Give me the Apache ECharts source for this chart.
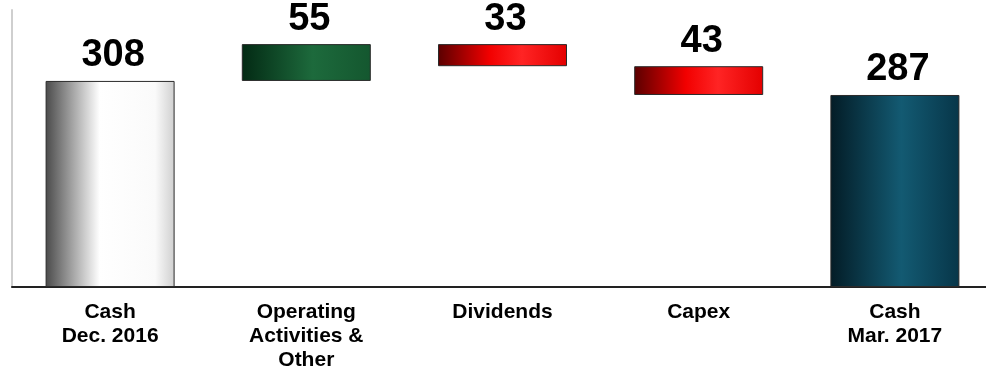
<!DOCTYPE html>
<html>
<head>
<meta charset="utf-8">
<script src="https://cdn.jsdelivr.net/npm/echarts@6/dist/echarts.min.js"></script>
<style>
  html, body { margin: 0; padding: 0; background: #fff; }
  #chart { width: 986px; height: 366px; }
</style>
</head>
<body>
<div id="chart"></div>
<script>
// Cash bridge, Dec. 2016 -> Mar. 2017
const categories = ['Cash\nDec. 2016', 'Operating\nActivities &\nOther', 'Dividends', 'Capex', 'Cash\nMar. 2017'];
const openingCash = 308;
const cashFlows = [55, -33, -43];   // operating & other, dividends, capex
const closingCash = 287;

// Horizontal gradients for each bar
const fills = [
  [[0, '#4a4a4a'], [0.42, '#ffffff'], [0.85, '#fafafa'], [1, '#cfcfcf']],
  [[0, '#032a14'], [0.55, '#1d6a3c'], [1, '#14572f']],
  [[0, '#5a0000'], [0.4, '#f20000'], [0.65, '#ff2424'], [1, '#e40000']],
  [[0, '#5a0000'], [0.4, '#f20000'], [0.65, '#ff2424'], [1, '#e40000']],
  [[0, '#031c26'], [0.55, '#135a72'], [1, '#073649']]
];

// Build invisible offsets and visible segments for the waterfall
const baseData = [];
const barData = [];
baseData.push(0);
barData.push(openingCash);
let running = openingCash;
cashFlows.forEach(function (f) {
  const next = running + f;
  baseData.push(Math.min(running, next));
  barData.push(Math.abs(f));
  running = next;
});
baseData.push(0);
barData.push(closingCash);

const chart = echarts.init(document.getElementById('chart'), null, { renderer: 'canvas' });
chart.setOption({
  animation: false,
  backgroundColor: '#ffffff',
  grid: { left: 12, width: 981, top: 10, height: 277, containLabel: false, outerBoundsMode: 'none' },
  xAxis: {
    type: 'category',
    data: categories,
    axisTick: { show: false },
    axisLine: { lineStyle: { color: '#222', width: 2 } },
    axisLabel: {
      interval: 0,
      margin: 13,
      color: '#000',
      fontFamily: 'Liberation Sans, Arial, sans-serif',
      fontWeight: 'bold',
      fontSize: 21,
      lineHeight: 24
    }
  },
  yAxis: {
    type: 'value',
    min: 0,
    max: 414,
    axisLine: { show: true, lineStyle: { color: '#cfcfcf', width: 2 } },
    axisTick: { show: false },
    axisLabel: { show: false },
    splitLine: { show: false }
  },
  series: [
    {
      type: 'bar',
      stack: 'bridge',
      data: baseData,
      barWidth: 129,
      itemStyle: { color: 'transparent' },
      silent: true
    },
    {
      type: 'bar',
      stack: 'bridge',
      barWidth: 129,
      data: barData.map(function (v, i) {
        return {
          value: v,
          itemStyle: {
            color: new echarts.graphic.LinearGradient(0, 0, 1, 0,
              fills[i].map(function (s) { return { offset: s[0], color: s[1] }; })),
            borderColor: '#2a2a2a',
            borderWidth: 1
          }
        };
      }),
      label: {
        show: true,
        position: 'top',
        distance: 6,
        offset: [3, 0],
        color: '#000',
        fontFamily: 'Liberation Sans, Arial, sans-serif',
        fontWeight: 'bold',
        fontSize: 38
      }
    }
  ]
});
</script>
</body>
</html>
